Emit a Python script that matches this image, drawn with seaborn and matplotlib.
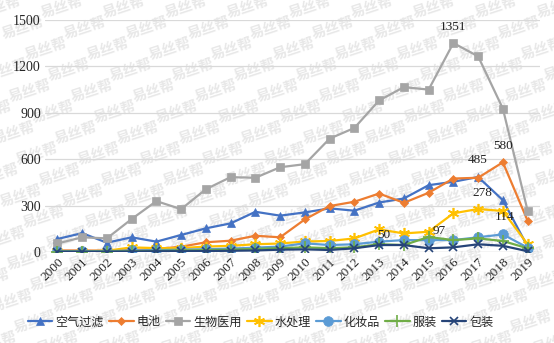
import numpy as np
import pandas as pd
import matplotlib
matplotlib.use("Agg")
import matplotlib.pyplot as plt
import seaborn as sns

years = [str(y) for y in range(2000, 2020)]
air_filter = [84, 122, 60, 95, 67, 110, 153, 185, 260, 235, 256, 282, 267, 320, 346, 432, 454, 485, 335, 35]
battery = [10, 10, 8, 12, 20, 34, 63, 73, 105, 95, 211, 297, 325, 378, 318, 383, 475, 480, 580, 202]
biomed = [55, 95, 88, 213, 329, 277, 406, 484, 480, 548, 568, 733, 802, 980, 1066, 1050, 1351, 1265, 927, 267]
water = [5, 5, 8, 30, 25, 25, 35, 40, 50, 55, 68, 71, 88, 146, 120, 131, 250, 278, 265, 50]
cosmetics = [5, 5, 5, 10, 12, 15, 18, 22, 28, 35, 56, 45, 50, 67, 77, 77, 77, 95, 114, 28]
clothing = [3, 3, 3, 5, 8, 10, 12, 15, 20, 25, 30, 25, 30, 50, 45, 97, 77, 88, 71, 24]
packaging = [2, 2, 2, 3, 5, 5, 6, 8, 10, 15, 17, 13, 24, 45, 45, 24, 30, 50, 40, 5]

series_names = ["空气过滤", "电池", "生物医用", "水处理", "化妆品", "服装", "包装"]
series_values = [air_filter, battery, biomed, water, cosmetics, clothing, packaging]
y_ticks = [0, 300, 600, 900, 1200, 1500]

# labelled points: (series, year, text)
labels = [("生物医用", "2016", "1351"), ("电池", "2018", "580"), ("空气过滤", "2017", "485"),
          ("水处理", "2017", "278"), ("化妆品", "2018", "114"), ("服装", "2015", "97"),
          ("服装", "2013", "50")]
label_offsets = [(0, 16), (0, 16), (0, 17), (4, 16), (2, 17), (11, 6), (5, 9)]

colors = ["#4472C4", "#ED7D31", "#A5A5A5", "#FFC000", "#5B9BD5", "#70AD47", "#264478"]
markers = ["^", "D", "s", (6, 2, 0), "o", "+", "x"]
msizes = [6, 4.5, 6, 8, 7, 8, 6]

sns.set_theme(style="white")
plt.rcParams["font.family"] = ["Noto Sans CJK SC", "DejaVu Sans"]

W, H = 554, 343
fig = plt.figure(figsize=(W / 100, H / 100), dpi=100)
fig.patch.set_facecolor("white")

# watermark tiles across the whole picture
for r in range(-1, 18):
    for c in range(-1, 10):
        x = c * 62 + (r * 23) % 62
        y = 6 + r * 21
        if -12 <= x <= W + 12 and -4 <= y <= H + 4:
            fig.text(x / W, 1 - y / H, "易丝帮", fontsize=10.5, fontweight="bold",
                     color="#e8e8e8", rotation=18, ha="center", va="center", zorder=-5)

ax = fig.add_axes([45 / W, 1 - 252 / H, (540 - 45) / W, (252 - 20) / H])
ax.patch.set_alpha(0)

xi = np.arange(len(years))
df = pd.DataFrame({"x": np.tile(xi, len(series_names)),
                   "value": np.concatenate(series_values),
                   "series": np.repeat(series_names, len(years))})

for name, col, mk, ms in zip(series_names, colors, markers, msizes):
    sub = df[df["series"] == name]
    filled = mk not in ("+", "x") and not isinstance(mk, tuple)
    sns.lineplot(data=sub, x="x", y="value", ax=ax, color=col, linewidth=1.6,
                 marker=mk, markersize=ms, markeredgecolor=col,
                 markerfacecolor=col if filled else "none",
                 markeredgewidth=1.2 if not filled else 0.5, label=name, zorder=3)

for (sname, yr, txt), (dx, dy) in zip(labels, label_offsets):
    si = series_names.index(sname)
    yi = years.index(yr)
    ax.annotate(txt, (yi, series_values[si][yi]), xytext=(dx, dy), textcoords="offset pixels",
                ha="center", va="center", fontsize=9.5, family="Liberation Serif", color="#222222",
                zorder=5)

ax.set_xlim(-0.5, len(years) - 0.5)
ax.set_ylim(0, 1500)
ax.set_yticks(y_ticks)
ax.set_yticklabels([str(t) for t in y_ticks], family="Liberation Serif", fontsize=10, color="#262626")
ax.set_xticks(xi)
ax.set_xticklabels(years, rotation=45, ha="right", rotation_mode="anchor",
                   family="Liberation Serif", fontsize=9.5, color="#262626")
ax.tick_params(axis="both", length=0, pad=3)
ax.set_xlabel("")
ax.set_ylabel("")
ax.yaxis.grid(True, color="#d9d9d9", linewidth=0.9)
ax.set_axisbelow(True)
for s in ax.spines.values():
    s.set_visible(False)
ax.axhline(0, color="#d0d0d0", linewidth=0.9, zorder=1)

ax.legend_.remove()
handles, lbls = ax.get_legend_handles_labels()
fig.legend(handles, lbls, loc="center", bbox_to_anchor=(261 / W, 1 - 322 / H), ncol=7,
           frameon=False, handlelength=2.0, handletextpad=0.25, columnspacing=0.45,
           prop={"family": ["Noto Sans CJK SC", "DejaVu Sans"], "size": 8.7})

fig.savefig("out.png", dpi=100, facecolor="white")
